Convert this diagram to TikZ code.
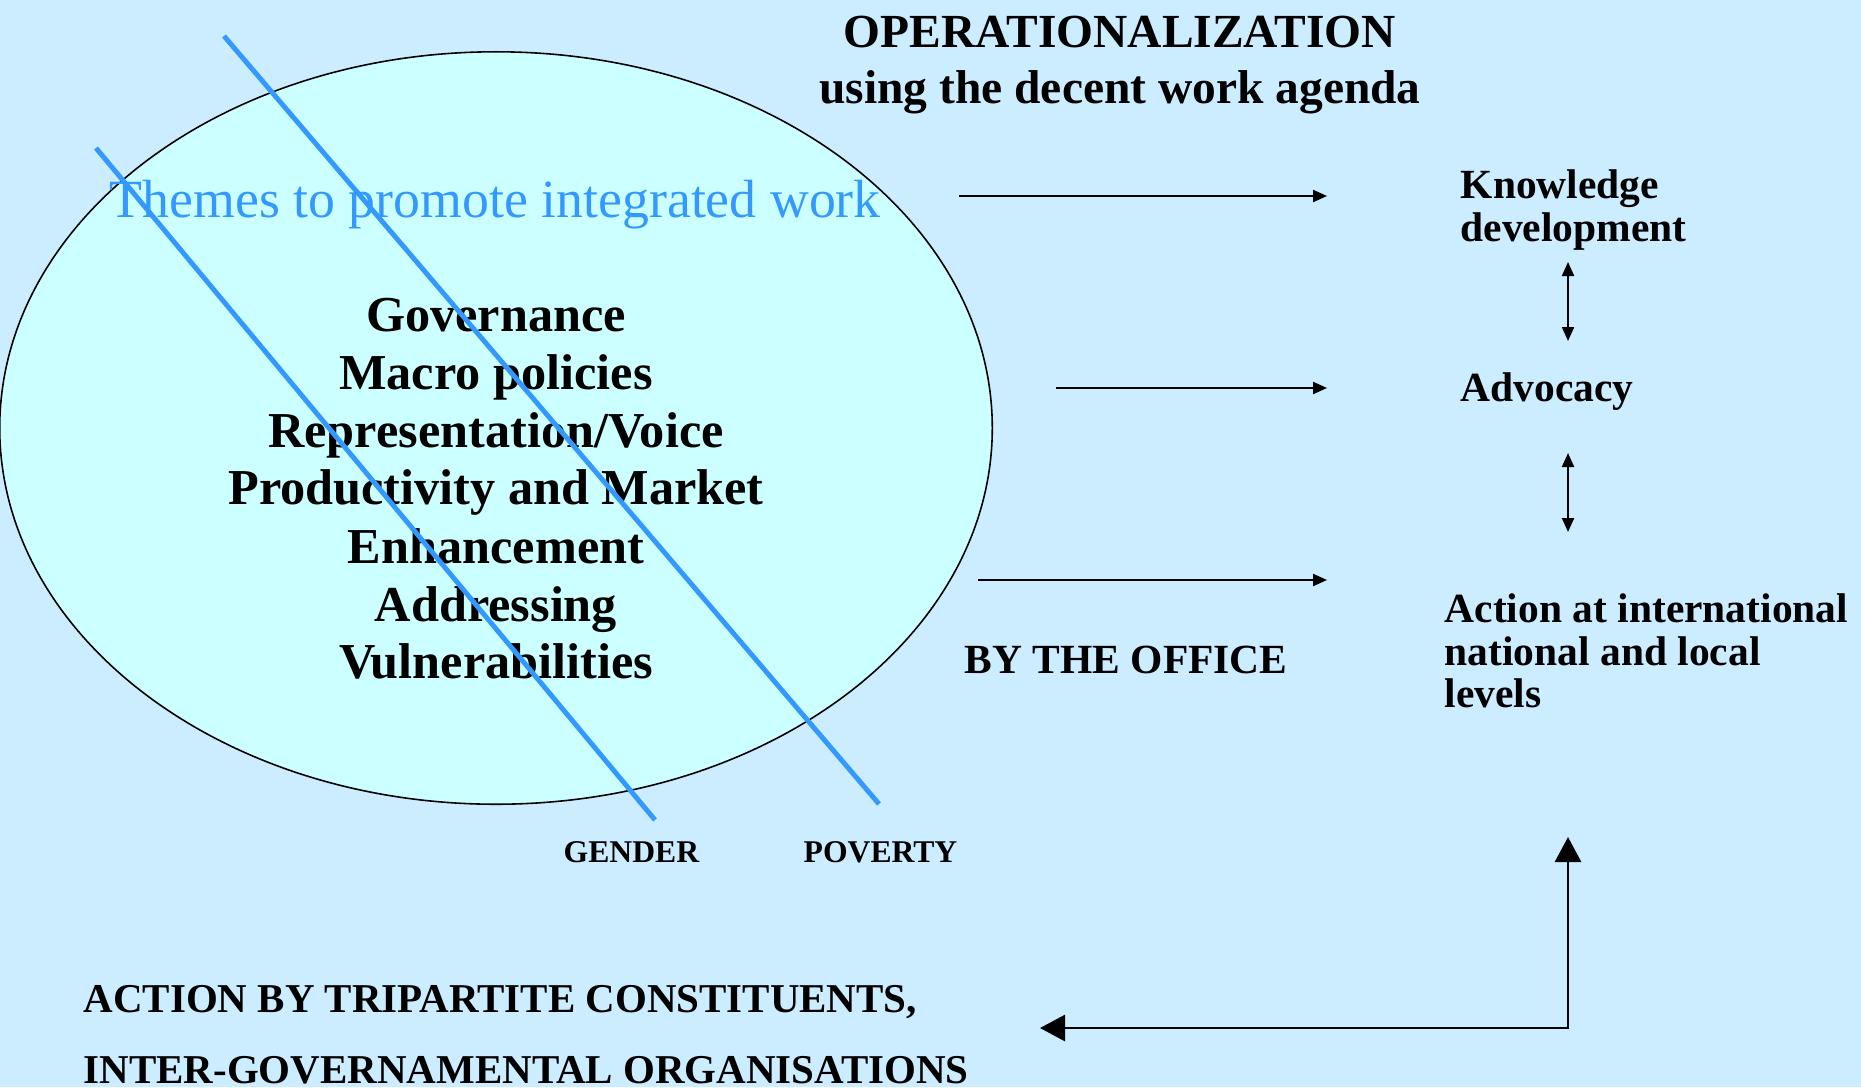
\documentclass[tikz,border=0pt]{standalone}
\usepackage{fontspec}
\setmainfont{Liberation Serif}
\usetikzlibrary{arrows.meta,shapes.geometric}
\definecolor{bgblue}{RGB}{204,236,255}
\definecolor{ellfill}{RGB}{204,255,255}
\definecolor{lineblue}{RGB}{51,153,255}
\begin{document}
\begin{tikzpicture}[x=0.01cm,y=-0.01cm,
  ttl/.style={font=\bfseries\fontsize{13.5}{15}\selectfont, inner sep=0, anchor=base},
  thm/.style={font=\bfseries\fontsize{14.3}{16}\selectfont, inner sep=0, anchor=base},
  lbl/.style={font=\bfseries\fontsize{11.8}{13}\selectfont, inner sep=0, anchor=base west},
  botlbl/.style={font=\bfseries\fontsize{11.65}{13}\selectfont, inner sep=0, anchor=base west},
  small/.style={font=\bfseries\fontsize{9}{10}\selectfont, inner sep=0, anchor=base west},
  sarrow/.style={-{Triangle[length=0.14cm,width=0.12cm]}, line width=0.6pt},
  dblarrow/.style={{Triangle[length=0.14cm,width=0.12cm]}-{Triangle[length=0.14cm,width=0.12cm]}, line width=0.6pt},
  bigarrow/.style={{Triangle[length=0.25cm,width=0.26cm]}-{Triangle[length=0.25cm,width=0.26cm]}, line width=0.8pt},
  crossline/.style={draw=lineblue, line width=1.4pt}
]
\fill[bgblue] (0,0) rectangle (1861,1087);
\useasboundingbox (0,0) rectangle (1861,1087);

% ellipse
\node[ellipse, draw=black, line width=0.45pt, fill=ellfill, minimum width=9.92cm, minimum height=7.52cm, inner sep=0] (ell) at (496,428) {};

% title
\node[ttl] (op1) at (1120,47) {OPERATIONALIZATION};
\node[ttl] (op2) at (1120,103) {using the decent work agenda};

% themes heading
\node[font=\fontsize{15.3}{17}\selectfont, text=lineblue, inner sep=0, anchor=base west] (themes) at (109,217) {Themes to promote integrated work};

% themes list
\node[thm] (th1) at (496,331) {Governance};
\node[thm] (th2) at (496,389) {Macro policies};
\node[thm] (th3) at (496,447) {Representation/Voice};
\node[thm] (th4) at (496,504) {Productivity and Market};
\node[thm] (th5) at (496,563) {Enhancement};
\node[thm] (th6) at (496,621) {Addressing};
\node[thm] (th7) at (496,678) {Vulnerabilities};

% cross lines
\coordinate (g1) at (96,148);
\coordinate (g2) at (655,820);
\coordinate (p1) at (224,36);
\coordinate (p2) at (879,804);
\draw[crossline] (g1) -- (g2);
\draw[crossline] (p1) -- (p2);

\node[small] (gender) at (563,862) {GENDER};
\node[small] (poverty) at (803,862) {POVERTY};

% right side
\node[lbl] (kn1) at (1460,198) {Knowledge};
\node[lbl] (kn2) at (1460,241) {development};
\node[lbl] (adv) at (1460,401) {Advocacy};
\node[lbl] (act1) at (1444,622) {Action at international};
\node[lbl] (act2) at (1444,665) {national and local};
\node[lbl] (act3) at (1444,707) {levels};
\node[lbl] (office) at (964,673) {BY THE OFFICE};

% bottom
\node[botlbl] (tri1) at (83,1012) {ACTION BY TRIPARTITE CONSTITUENTS,};
\node[botlbl] (tri2) at (83,1083) {INTER-GOVERNAMENTAL ORGANISATIONS};

% arrows
\coordinate (a1s) at (959,196);  \coordinate (a1e) at (1327,196);
\coordinate (a2s) at (1056,388); \coordinate (a2e) at (1327,388);
\coordinate (a3s) at (978,580);  \coordinate (a3e) at (1327,580);
\draw[sarrow] (a1s) -- (a1e);
\draw[sarrow] (a2s) -- (a2e);
\draw[sarrow] (a3s) -- (a3e);

\coordinate (d1a) at (1568,262); \coordinate (d1b) at (1568,341);
\coordinate (d2a) at (1568,453); \coordinate (d2b) at (1568,532);
\draw[dblarrow] (d1a) -- (d1b);
\draw[dblarrow] (d2a) -- (d2b);

\coordinate (eleft) at (1040,1028);
\coordinate (ecorner) at (1568,1028);
\coordinate (etop) at (1568,837);
\draw[bigarrow] (eleft) -- (ecorner) -- (etop);
\end{tikzpicture}
\end{document}
